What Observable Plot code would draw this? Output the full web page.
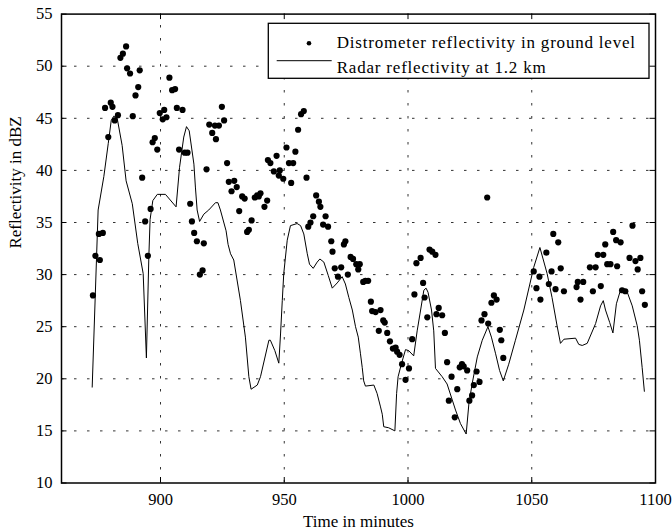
<!DOCTYPE html>
<html>
<head>
<meta charset="utf-8">
<script src="https://cdn.jsdelivr.net/npm/d3@7"></script>
<script src="https://cdn.jsdelivr.net/npm/@observablehq/plot@0.6"></script>
<style>
  html, body { margin: 0; padding: 0; background: #fff; }
  #chart svg { display: block; }
</style>
</head>
<body>
<div id="chart"></div>
<script>
// ---- data ----
const distTime = [872.7,873.7,875.5,875.1,876.7,877.6,878.9,879.9,880.6,881.5,882.8,883.8,884.8,886.1,886.5,887.7,888.8,889.9,891.0,891.6,892.6,893.8,894.9,896.0,896.8,897.7,898.7,899.7,900.9,901.5,902.4,903.6,904.7,905.9,906.6,907.5,908.9,909.8,910.9,912.0,912.7,913.6,914.7,915.9,917.0,917.5,918.6,919.7,920.9,922.0,922.4,923.6,924.8,925.7,926.9,927.6,928.7,929.8,930.8,931.8,933.0,934.0,935.0,935.7,936.8,938.1,939.0,939.7,940.4,942.0,943.1,943.4,944.4,945.8,946.9,947.8,948.2,949.6,950.9,951.9,952.8,953.6,954.5,955.6,956.8,957.9,959.0,959.7,960.6,961.7,962.9,964.0,964.6,965.7,966.7,967.7,969.0,969.5,970.4,971.7,973.0,974.1,974.7,975.7,976.8,977.8,979.1,979.9,980.5,981.9,982.8,983.9,985.0,985.5,986.9,988.2,988.9,990.0,990.6,991.6,992.7,993.9,995.0,995.6,996.6,997.6,999.0,1000.4,1001.7,1002.6,1003.4,1005.1,1006.1,1006.7,1007.8,1008.7,1009.8,1011.1,1011.5,1012.4,1013.8,1014.9,1015.8,1016.5,1017.6,1018.9,1019.9,1020.9,1021.8,1022.5,1023.9,1024.8,1025.9,1026.6,1027.7,1028.9,1029.7,1030.9,1032.0,1032.4,1033.7,1034.7,1035.8,1037.1,1037.7,1038.5,1050.8,1051.9,1053.1,1053.5,1055.9,1056.9,1058.0,1058.7,1059.6,1060.7,1061.7,1063.0,1068.1,1068.6,1069.7,1070.8,1073.5,1074.7,1075.8,1076.7,1077.9,1078.9,1079.7,1080.5,1081.8,1082.9,1084.1,1084.5,1085.9,1086.5,1087.8,1089.5,1090.7,1091.9,1092.8,1093.9,1094.6,1095.7];
const distDbz = [28.0,31.8,31.4,33.9,34.0,46.0,43.2,46.5,46.1,44.8,45.3,50.8,51.2,51.9,49.8,49.3,45.2,47.2,48.0,49.6,39.3,35.1,31.8,36.3,42.7,43.1,42.0,45.5,44.9,45.8,45.1,48.9,47.7,47.8,46.0,42.0,45.8,41.7,41.7,36.8,35.1,34.0,33.2,30.0,30.4,33.0,40.1,44.4,43.6,44.3,43.0,44.3,46.1,44.8,40.7,38.9,38.0,39.0,38.4,36.1,37.5,37.3,34.1,34.3,35.2,37.4,37.6,37.5,37.8,36.5,37.1,41.0,40.7,39.9,41.4,39.5,40.0,39.2,42.2,40.7,38.8,40.7,41.8,43.9,45.4,45.7,39.3,34.6,35.0,35.6,37.6,37.0,36.5,34.8,35.6,34.6,33.2,32.2,30.6,29.8,30.7,32.9,33.2,30.0,31.7,31.5,31.0,30.5,31.0,29.3,29.4,29.4,27.4,26.5,26.4,24.6,26.6,25.6,25.4,24.4,23.6,22.9,23.0,22.6,22.3,21.4,19.9,21.0,23.8,28.1,31.1,31.6,29.2,27.8,25.9,32.4,32.2,31.9,26.2,26.8,26.1,24.4,21.6,17.9,20.2,16.3,19.0,21.1,21.4,21.2,20.8,17.9,18.4,19.4,20.7,19.7,25.6,26.2,37.4,25.3,27.3,28.0,27.6,24.7,23.7,22.0,30.3,28.7,29.8,27.6,32.1,29.1,30.3,33.9,28.6,33.1,30.6,28.4,28.8,29.3,27.6,29.3,30.7,28.4,30.7,31.9,28.9,31.9,32.9,31.0,31.0,34.1,33.3,30.8,33.1,28.5,28.4,31.6,34.7,31.3,30.5,31.6,28.4,27.1];

const radarTime = [872.4,874.8,877.1,878.9,880.1,881.1,882.5,884.5,886.1,888.6,890.8,893.0,894.3,895.3,895.8,896.9,898.7,902.0,906.3,907.7,909.4,910.5,911.6,913.5,914.1,914.8,915.8,917.5,919.5,922.2,923.2,924.2,926.5,927.3,928.3,929.6,932.3,934.3,935.7,936.6,939.1,940.4,943.8,944.4,946.2,947.8,948.5,949.2,949.8,951.2,952.5,955.2,956.6,957.9,959.3,960.2,961.7,963.3,964.4,966.0,967.8,969.4,971.4,973.4,974.7,976.1,977.5,978.8,979.9,980.8,981.5,982.1,982.8,986.2,987.5,988.9,989.6,990.2,992.2,994.7,995.4,996.0,997.3,999.0,1000.3,1002.3,1003.7,1005.1,1006.4,1007.3,1008.1,1009.5,1010.4,1011.1,1013.8,1015.8,1019.2,1021.2,1023.5,1024.6,1025.9,1028.0,1030.0,1032.3,1033.7,1035.4,1037.0,1038.5,1040.7,1043.4,1046.8,1050.8,1053.3,1056.2,1058.2,1060.3,1061.6,1063.0,1067.7,1069.0,1070.4,1072.4,1075.8,1077.8,1078.9,1079.8,1081.5,1082.8,1084.2,1086.1,1088.6,1090.6,1092.6,1093.5,1094.6,1095.5];
const radarDbz = [19.2,36.2,39.4,42.6,44.8,45.2,45.0,42.4,39.0,36.8,33.0,30.1,22.0,31.8,35.3,37.1,37.7,37.7,36.5,40.3,43.2,44.2,43.8,40.6,38.4,36.2,35.1,35.8,36.2,36.9,36.9,36.2,34.2,32.9,32.0,31.4,27.5,24.0,20.2,19.0,19.4,20.2,23.7,23.7,22.7,21.5,24.3,27.5,30.1,33.3,34.7,34.9,34.7,33.9,32.0,31.0,30.6,31.2,31.5,31.2,29.9,28.7,29.2,29.8,29.1,27.8,26.6,25.0,24.0,22.4,21.1,19.8,19.3,19.4,18.6,17.3,16.6,15.4,15.3,15.0,18.6,20.2,21.4,22.8,22.7,22.2,24.6,26.6,28.5,28.7,28.3,26.6,24.6,21.0,20.2,19.5,17.0,15.7,14.7,17.6,19.5,22.1,23.7,25.0,24.0,22.4,20.8,19.8,21.4,23.7,26.6,30.7,32.6,30.1,27.8,25.0,23.4,23.8,23.9,23.3,23.2,23.4,25.3,27.0,27.5,26.6,25.4,24.4,27.2,28.7,28.3,27.0,25.1,23.7,21.1,18.8];

const xTicks = [900, 950, 1000, 1050, 1100];
const yTicks = [10, 15, 20, 25, 30, 35, 40, 45, 50, 55];
const xDomain = [860, 1100];
const yDomain = [10, 55];
const legendLabels = ["Distrometer reflectivity in ground level", "Radar reflectivity at 1.2 km"];
const xLabel = "Time in minutes";
const yLabel = "Reflectivity in dBZ";

// ---- tables built from the arrays ----
const dist = distTime.map((t, i) => ({t, v: distDbz[i]}));
const radar = radarTime.map((t, i) => ({t, v: radarDbz[i]}));

const W = 672, H = 531;
const mL = 61, mR = 17, mT = 13.6, mB = 48.5;
const tickPx = 5.5;
const kx = (xDomain[1] - xDomain[0]) / (W - mL - mR);
const ky = (yDomain[1] - yDomain[0]) / (H - mT - mB);
const tx = tickPx * kx, ty = tickPx * ky;
const gridDash = "2.5,10.5";

const chart = Plot.plot({
  width: W,
  height: H,
  marginLeft: mL,
  marginRight: mR,
  marginTop: mT,
  marginBottom: mB,
  style: {fontFamily: "'Liberation Serif', 'DejaVu Serif', serif", fontSize: "16.5px", background: "#fff", color: "#000", overflow: "visible"},
  x: {domain: xDomain, ticks: xTicks, tickSize: 0, tickPadding: 10, tickFormat: d => String(d), label: null},
  y: {domain: yDomain, ticks: yTicks, tickSize: 0, tickPadding: 9, tickFormat: d => String(d), label: null},
  marks: [
    Plot.ruleX(xTicks.filter(d => d < xDomain[1]), {x: d => d, y1: yDomain[0], y2: yDomain[1], stroke: "#333", strokeWidth: 1, strokeDasharray: gridDash}),
    Plot.ruleY(yTicks.filter(d => d > yDomain[0] && d < yDomain[1]), {y: d => d, x1: xDomain[0], x2: xDomain[1], stroke: "#333", strokeWidth: 1, strokeDasharray: gridDash}),
    Plot.ruleX(xTicks, {x: d => d, y1: yDomain[0], y2: yDomain[0] + ty, stroke: "#000", strokeWidth: 1}),
    Plot.ruleX(xTicks, {x: d => d, y1: yDomain[1], y2: yDomain[1] - ty, stroke: "#000", strokeWidth: 1}),
    Plot.ruleY(yTicks, {y: d => d, x1: xDomain[0], x2: xDomain[0] + tx, stroke: "#000", strokeWidth: 1}),
    Plot.ruleY(yTicks, {y: d => d, x1: xDomain[1], x2: xDomain[1] - tx, stroke: "#000", strokeWidth: 1}),
    Plot.line(radar, {x: "t", y: "v", stroke: "#000", strokeWidth: 1}),
    Plot.dot(dist, {x: "t", y: "v", r: 3.1, fill: "#000", stroke: "none"}),
    Plot.frame({stroke: "#000", strokeWidth: 1.5}),
    Plot.text([xLabel], {frameAnchor: "bottom", dy: 44, lineAnchor: "bottom", fontSize: 17}),
    Plot.text([yLabel], {frameAnchor: "left", dx: -46, rotate: -90, lineAnchor: "middle", fontSize: 17})
  ]
});

// ---- legend drawn on top, MATLAB style ----
const svg = d3.select(chart);
const g = svg.append("g").attr("class", "legend")
  .attr("text-anchor", "start").attr("font-size", 17).style("letter-spacing", "0.8px");
const lx = 268.3, ly = 23.3, lw = 380.7, lh = 55;
g.append("rect").attr("x", lx).attr("y", ly).attr("width", lw).attr("height", lh)
  .attr("fill", "#fff").attr("stroke", "#000").attr("stroke-width", 1.3);
g.append("circle").attr("cx", lx + 40.7).attr("cy", ly + 20).attr("r", 2.3).attr("fill", "#000");
g.append("line").attr("x1", lx + 8.4).attr("x2", lx + 63.4).attr("y1", ly + 37.4).attr("y2", ly + 37.4)
  .attr("stroke", "#000").attr("stroke-width", 1);
g.append("text").attr("x", lx + 68.4).attr("y", ly + 24.4).attr("fill", "#000").text(legendLabels[0]);
g.append("text").attr("x", lx + 68.4).attr("y", ly + 49.6).attr("fill", "#000").text(legendLabels[1]);

document.getElementById("chart").appendChild(chart);
</script>
</body>
</html>
